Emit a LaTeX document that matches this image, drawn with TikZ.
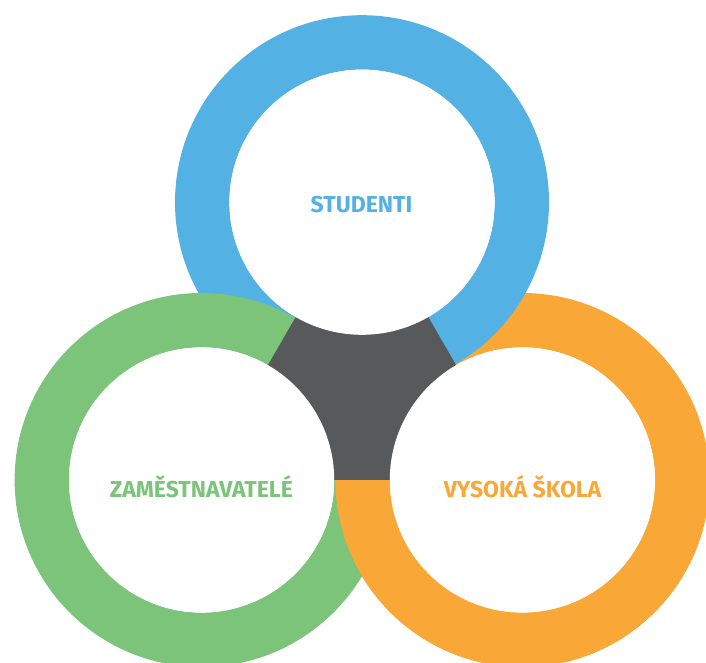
\documentclass[tikz,border=0pt]{standalone}
\usepackage{fontspec}
\setmainfont{Fira Sans}
\usetikzlibrary{calc}

\definecolor{stublue}{HTML}{53B1E3}
\definecolor{zamgreen}{HTML}{7BC47A}
\definecolor{vysorange}{HTML}{F9A736}
\definecolor{hubgray}{HTML}{58595B}

\begin{document}
\begin{tikzpicture}[
    x=1pt,y=1pt,
    ringtext/.style={font=\bfseries\fontsize{23}{25}\selectfont,anchor=base},
    ring/.style={even odd rule}
]
\useasboundingbox (0,0) rectangle (706,663);
\clip (0,0) rectangle (706,663);

\def\Rout{187}
\def\Rin{132.6}
\coordinate (stu) at (362,460.8);
\coordinate (zam) at (201.6,183);
\coordinate (vys) at (522.4,183);

% rings, orange lowest, green on top
\fill[vysorange,ring] (vys) circle (\Rout) (vys) circle (\Rin);
\fill[stublue,ring] (stu) circle (\Rout) (stu) circle (\Rin);
\fill[zamgreen,ring] (zam) circle (\Rout) (zam) circle (\Rin);
% orange goes over green below the base line
\begin{scope}
    \clip (0,0) rectangle (706,183);
    \fill[vysorange,ring] (vys) circle (\Rout) (vys) circle (\Rin);
\end{scope}

% middle piece and the white holes
\fill[hubgray] (stu) -- (zam) -- (vys) -- cycle;
\fill[white] (stu) circle (\Rin) (zam) circle (\Rin) (vys) circle (\Rin);

\node[ringtext,text=stublue] (studenti) at (361.5,450.3) {STUDENTI};
\node[ringtext,text=zamgreen] (zamestnavatele) at (201.3,165.3) {ZAMĚSTNAVATELÉ};
\node[ringtext,text=vysorange] (skola) at (522.5,165.3) {VYSOKÁ ŠKOLA};
\end{tikzpicture}
\end{document}
